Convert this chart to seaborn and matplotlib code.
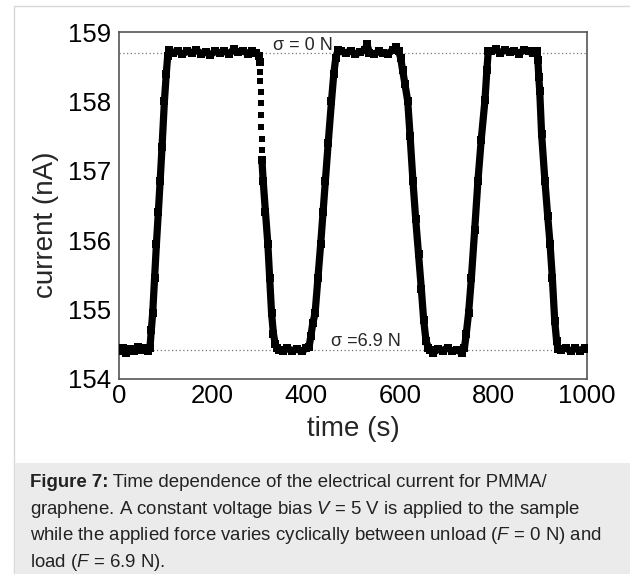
import matplotlib
matplotlib.use("Agg")
import matplotlib.pyplot as plt
from matplotlib.patches import Rectangle
import seaborn as sns

# current trace (time in s, current in nA)
trace1_t = [0, 8, 16, 24, 32, 40, 48, 56, 62, 66,
            69, 72, 76, 80, 84, 88, 92, 97, 101, 104, 107,
            115, 125, 135, 145, 155, 165, 175, 185, 195, 205, 215, 225,
            235, 245, 255, 265, 275, 285, 293, 299, 301]
trace1_i = [154.40, 154.44, 154.38, 154.43, 154.40, 154.46, 154.42, 154.45, 154.40, 154.44,
            154.70, 154.95, 155.45, 155.95, 156.40, 156.86, 157.35, 158.00, 158.40, 158.65, 158.74,
            158.70, 158.73, 158.68, 158.72, 158.70, 158.74, 158.69, 158.71, 158.67, 158.72, 158.70, 158.73,
            158.68, 158.75, 158.71, 158.73, 158.69, 158.72, 158.70, 158.66, 158.57]

# fast first drop: isolated samples
drop_t = [301.5, 302, 302.5, 303, 303.5, 304, 304.5, 305]
drop_i = [158.43, 158.30, 158.13, 157.97, 157.80, 157.63, 157.46, 157.30]

trace2_t = [305.5, 308, 313, 318, 322, 326, 330, 334, 338, 342,
            350, 360, 370, 380, 390, 400, 406,
            410, 414, 419, 425, 431, 436, 441, 447, 454, 459, 463, 468,
            475, 485, 495, 505, 515, 525, 530, 535, 545, 555, 565, 575, 585, 592, 598,
            602, 606, 611, 617, 622, 628, 634, 640, 646, 651, 656, 661, 665,
            672, 682, 692, 702, 712, 722, 732, 738,
            742, 747, 753, 760, 767, 774, 782, 786, 789,
            795, 805, 815, 825, 835, 845, 855, 865, 875, 885, 893,
            895, 897, 899, 903, 910, 916, 921, 926, 931, 935, 938,
            945, 955, 965, 975, 985, 995, 1000]
trace2_i = [157.15, 156.86, 156.40, 155.95, 155.45, 154.95, 154.65, 154.50, 154.44, 154.42,
            154.40, 154.44, 154.41, 154.43, 154.40, 154.44, 154.46,
            154.62, 154.80, 154.95, 155.45, 155.95, 156.40, 156.86, 157.40, 158.00, 158.40, 158.62, 158.74,
            158.72, 158.70, 158.73, 158.68, 158.71, 158.74, 158.82, 158.70, 158.68, 158.72, 158.70, 158.69, 158.74, 158.78, 158.72,
            158.62, 158.45, 158.25, 158.00, 157.50, 156.86, 156.30, 155.80, 155.30, 154.85, 154.55, 154.45, 154.42,
            154.38, 154.43, 154.41, 154.45, 154.40, 154.42, 154.38, 154.44,
            154.65, 154.95, 155.46, 156.15, 156.86, 157.45, 158.02, 158.45, 158.72,
            158.72, 158.75, 158.70, 158.74, 158.71, 158.73, 158.69, 158.74, 158.72, 158.70, 158.72,
            158.60, 158.35, 158.15, 157.53, 156.86, 156.35, 155.95, 155.45, 154.84, 154.55, 154.43,
            154.42, 154.45, 154.40, 154.44, 154.41, 154.45, 154.43]

unload_level = 158.70
load_level = 154.42
label_unload = "σ = 0 N"
label_load = "σ =6.9 N"

caption_head = "Figure 7:"
caption_lines = [
    " Time dependence of the electrical current for PMMA/",
    r"graphene. A constant voltage bias $\mathit{V}$ = 5 V is applied to the sample",
    r"while the applied force varies cyclically between unload ($\mathit{F}$ = 0 N) and",
    r"load ($\mathit{F}$ = 6.9 N).",
]

sns.set_style("white")
plt.rcParams['font.family'] = ['Liberation Sans', 'DejaVu Sans']
plt.rcParams['mathtext.fontset'] = 'custom'
plt.rcParams['mathtext.rm'] = 'Liberation Sans'
plt.rcParams['mathtext.it'] = 'Liberation Sans:italic'
plt.rcParams['mathtext.bf'] = 'Liberation Sans:bold'

W, H = 630, 574
fig = plt.figure(figsize=(W / 100, H / 100), dpi=100)

# page frame and caption box
fig.patches.append(Rectangle((14 / W, -0.01), 1.0, 1 - 6 / H + 0.01, transform=fig.transFigure,
                             facecolor='none', edgecolor='#d8d8d8', lw=1.0, zorder=-2))
fig.patches.append(Rectangle((14.5 / W, 0), 1.0, (H - 463) / H, transform=fig.transFigure,
                             facecolor='#ebebeb', edgecolor='none', zorder=-1))

ax = fig.add_axes([119 / W, 1 - 379 / H, 468 / W, 347 / H])
ax.set_facecolor('white')

sns.lineplot(x=trace1_t, y=trace1_i, ax=ax, color='black', lw=5.2, marker='s',
             markersize=5.2, markeredgewidth=0, sort=False, estimator=None, zorder=3)
sns.lineplot(x=trace2_t, y=trace2_i, ax=ax, color='black', lw=5.2, marker='s',
             markersize=5.2, markeredgewidth=0, sort=False, estimator=None, zorder=3)
sns.scatterplot(x=drop_t, y=drop_i, ax=ax, color='black', marker='s', s=21,
                linewidth=0, zorder=3)

ax.axhline(unload_level, color='#777777', lw=0.9, ls=(0, (1, 2)), zorder=2)
ax.axhline(load_level, color='#777777', lw=0.9, ls=(0, (1, 2)), zorder=2)
ax.text(392, 158.74, label_unload, ha='center', va='baseline', fontsize=13, zorder=4)
ax.text(527, 154.48, label_load, ha='center', va='baseline', fontsize=13, zorder=4)

ax.set_xlim(0, 1000)
ax.set_ylim(154, 159)
ax.set_xticks([0, 200, 400, 600, 800, 1000])
ax.set_xticks([100, 300, 500, 700, 900], minor=True)
ax.set_yticks([154, 155, 156, 157, 158, 159])
ax.set_yticks([154.5, 155.5, 156.5, 157.5, 158.5], minor=True)
ax.tick_params(which='both', direction='in', color='#444444', width=1.0,
               labelsize=18.5, labelcolor='black')
ax.tick_params(which='major', length=5)
ax.tick_params(which='minor', length=3)
ax.tick_params(axis='x', pad=3.5)
ax.tick_params(axis='y', pad=6)
for sp in ax.spines.values():
    sp.set_color('#555555')
    sp.set_linewidth(1.2)
    sp.set_visible(True)

ax.set_xlabel("time (s)", fontsize=20)
ax.set_ylabel("current (nA)", fontsize=20)
ax.xaxis.set_label_coords(0.5, -0.108)
ax.yaxis.set_label_coords(-0.129, 0.445)

cap_size = 13.4
head = fig.text(30 / W, 1 - 487 / H, caption_head, fontsize=cap_size, fontweight='bold',
                color='#222222', va='baseline', ha='left')
fig.canvas.draw()
bb = head.get_window_extent(fig.canvas.get_renderer())
fig.text(bb.x1 / W, 1 - 487 / H, caption_lines[0], fontsize=cap_size, color='#222222',
         va='baseline', ha='left')
for k, line in enumerate(caption_lines[1:], start=1):
    fig.text(30 / W, 1 - (487 + 26.7 * k) / H, line, fontsize=cap_size, color='#222222',
             va='baseline', ha='left')

fig.savefig("out.png", dpi=100)
